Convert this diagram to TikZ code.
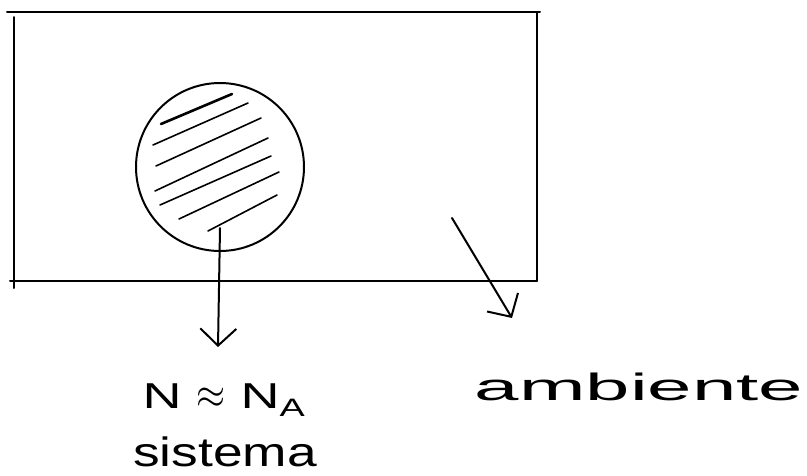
\documentclass[tikz,border=0pt]{standalone}
\usepackage{fontspec}
\setmainfont{Liberation Sans}
\usetikzlibrary{arrows.meta,positioning}

\begin{document}
\begin{tikzpicture}[
  x=1pt, y=-1pt,
  line cap=round,
  pen/.style={line width=2pt},
  hatch/.style={line width=1.6pt},
  hand/.style={inner sep=0pt, anchor=base},
  pointer/.style={pen, -{Straight Barb[length=17pt, width=36pt]}}
]
\useasboundingbox (0,0) rectangle (807,475);

\draw[pen] (7,12) -- (540,12);
\draw[pen] (14,17) -- (14,288);
\draw[pen] (537,12) -- (537,281);
\draw[pen] (10,281) -- (537,281);

\node[draw, circle, pen, minimum size=168pt, inner sep=0pt] (sys) at (220,167) {};
\draw[line width=2.6pt] (161,124) -- (232,94);
\foreach \ax/\ay/\bx/\by in {153/145/248/103, 156/166/261/118, 155/191/268/138,
    160/205/271/156, 179/219/279/172, 208/231/277/195}
  \draw[hatch] (\ax,\ay) -- (\bx,\by);

\node[hand, font=\fontsize{36}{40}\selectfont] (eq) at (224,408)
  {\scalebox{1.5}[1]{N \scalebox{1}[1.7]{$\approx$} N\textsubscript{A}}};
\node[hand, font=\fontsize{41}{45}\selectfont] (sysname) at (225,466) {\scalebox{1.3}[1]{sistema}};
\node[hand, font=\fontsize{38}{42}\selectfont] (env) at (639,400) {\scalebox{2.1}[1]{ambiente}};

\coordinate (sysin) at (220,228);
\coordinate (systip) at (218,347);
\coordinate (envin) at (452,218);
\coordinate (envtip) at (512,318);

\draw[pointer] (sysin) -- (systip);
\draw[pointer] (envin) -- (envtip);
\end{tikzpicture}
\end{document}
